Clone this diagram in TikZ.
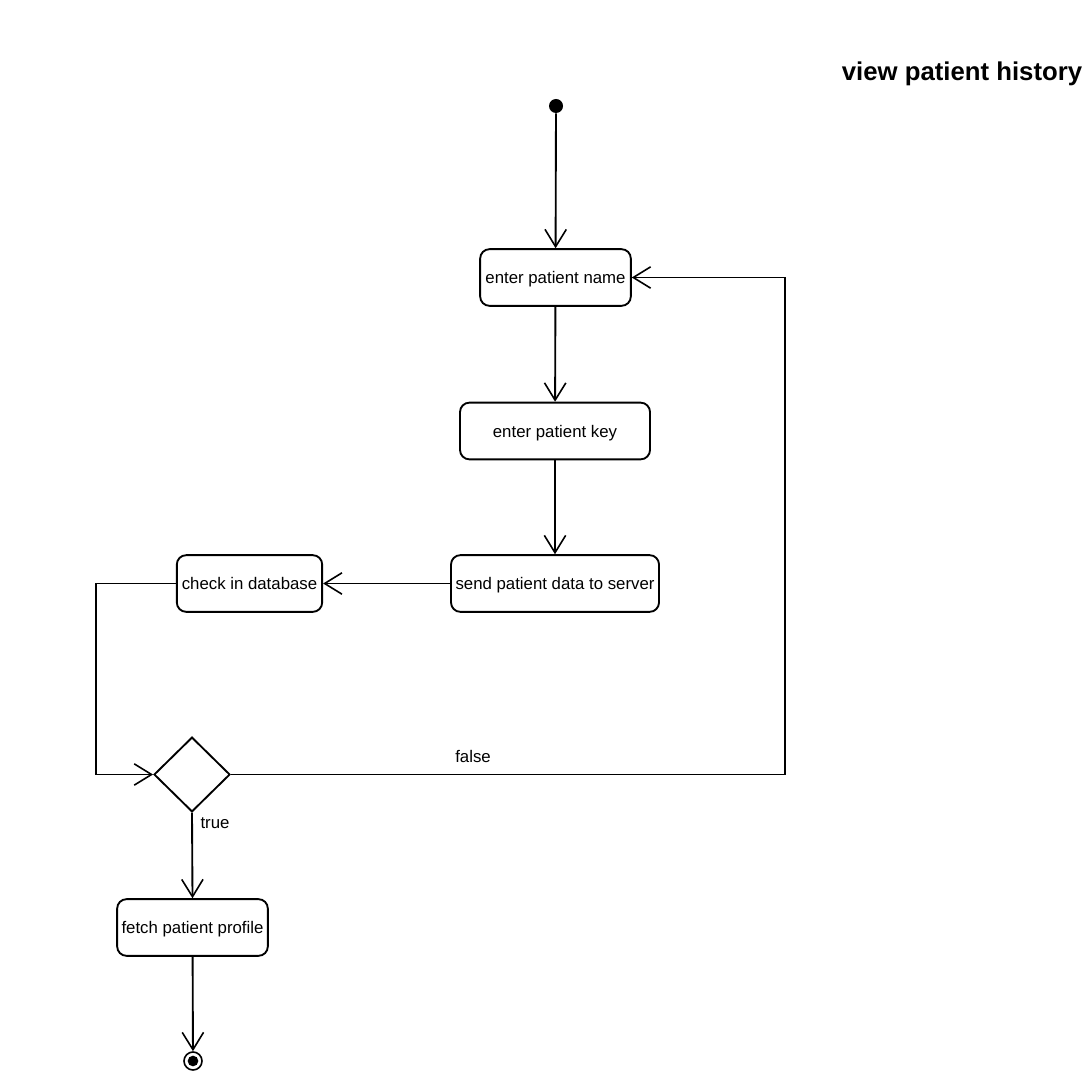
\documentclass[tikz,border=0pt]{standalone}
\usepackage{fontspec}
\setmainfont{Liberation Sans}
\usetikzlibrary{arrows.meta,shapes.geometric}
\begin{document}
\begin{tikzpicture}[x=0.75pt,y=-0.75pt,
  activity/.style={draw,line width=1.4pt,rounded corners=7pt,minimum height=42.5pt,inner sep=0pt,text depth=0pt,font=\fontsize{12.6}{15}\selectfont},
  flow/.style={line width=1.4pt,-{Straight Barb[length=13pt,width=16pt,line width=1.2pt]}},
  decision/.style={draw,line width=1.4pt,diamond,minimum width=57pt,minimum height=56pt,inner sep=0pt},
  lbl/.style={font=\fontsize{12.6}{15}\selectfont}]
\useasboundingbox (0,0) rectangle (1092,1087);
% title
\node[font=\bfseries\fontsize{19.3}{23}\selectfont] (title) at (962,73.5) {view patient history};
% initial and final states
\node[circle,fill=black,minimum size=10.5pt,inner sep=0pt] (start) at (556,106) {};
\node[circle,draw,line width=1.2pt,minimum size=13.5pt,inner sep=0pt] (stop) at (193,1061) {};
\node[circle,fill=black,minimum size=8pt,inner sep=0pt] (stopdot) at (193,1061) {};
% activities
\node[activity,minimum width=113pt] (name) at (555.5,277.5) {enter patient name};
\node[activity,minimum width=142.5pt] (key) at (555,431) {enter patient key};
\node[activity,minimum width=156pt] (send) at (555,583.5) {send patient data to server};
\node[activity,minimum width=109pt] (check) at (249.5,583.5) {check in database};
\node[decision] (dec) at (192,774.5) {};
\node[activity,minimum width=113pt] (fetch) at (192.5,927.5) {fetch patient profile};
% corner points of the routed connectors
\coordinate (c1) at (96,583.5);
\coordinate (c2) at (96,774.5);
\coordinate (c3) at (785,774.5);
\coordinate (c4) at (785,277.5);
% connectors
\draw[flow] (start) -- (name);
\draw[flow] (name) -- (key);
\draw[flow] (key) -- (send);
\draw[flow] (send) -- (check);
\draw[flow] (check.west) -- (c1) -- (c2) -- (dec.west);
\draw[flow] (dec.east) -- (c3) -- (c4) -- (name.east);
\draw[flow] (dec.south) -- (fetch.north);
\draw[flow] (fetch) -- (stop);
% guard labels
\node[lbl] (lfalse) at (473,756) {false};
\node[lbl] (ltrue) at (215,823) {true};
\end{tikzpicture}
\end{document}
